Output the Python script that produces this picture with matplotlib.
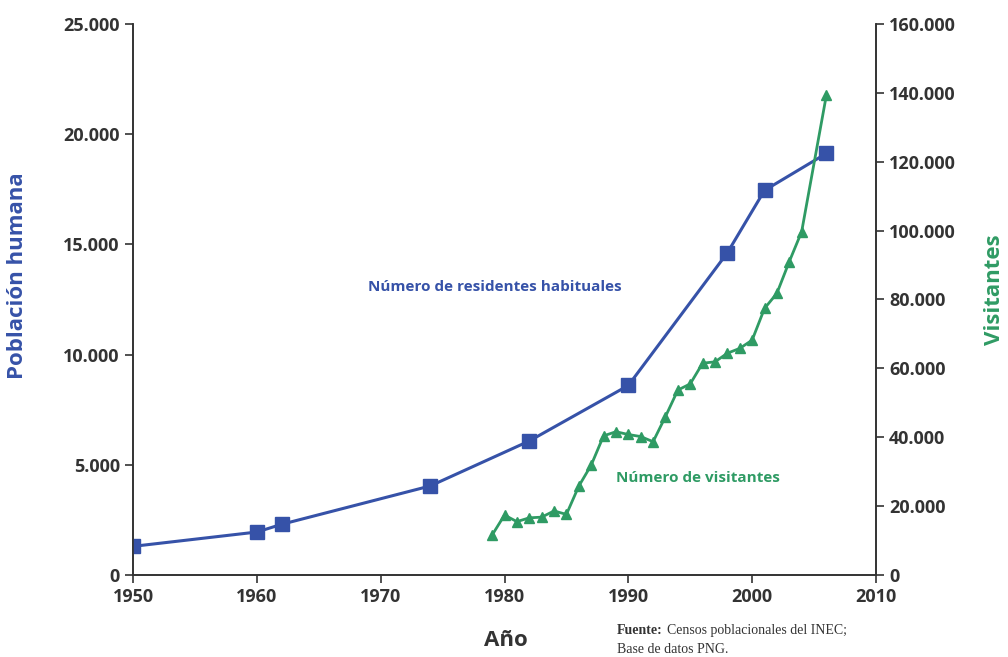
import matplotlib
matplotlib.use("Agg")
import matplotlib.pyplot as plt
from matplotlib.ticker import FuncFormatter

# Residentes habituales (eje izquierdo)
res_years = [1950, 1960, 1962, 1974, 1982, 1990, 1998, 2001, 2006]
residentes = [1300, 1950, 2300, 4040, 6080, 8600, 14620, 17450, 19130]

# Visitantes (eje derecho)
vis_years = [1979, 1980, 1981, 1982, 1983, 1984, 1985, 1986, 1987, 1988,
             1989, 1990, 1991, 1992, 1993, 1994, 1995, 1996, 1997, 1998,
             1999, 2000, 2001, 2002, 2003, 2004, 2006]
visitantes = [11600, 17400, 15500, 16600, 16800, 18600, 17600, 25800, 31900, 40400,
              41600, 40800, 40200, 38700, 46000, 53700, 55500, 61500, 61900, 64400,
              65800, 68200, 77400, 81800, 91000, 99700, 139400]

BLUE = "#3652a8"
GREEN = "#2f9b64"
DARK = "#333333"

plt.rcParams['font.family'] = ['Open Sans', 'DejaVu Sans']

def miles(v, pos):
    return "{:,.0f}".format(v).replace(",", ".")

fig = plt.figure(figsize=(10.08, 6.57), dpi=100)
ax = fig.add_axes([0.132, 0.1248, 0.737, 0.8387])
ax2 = ax.twinx()

ax.plot(res_years, residentes, color=BLUE, lw=2.2, marker='s', ms=10, zorder=3)
ax2.plot(vis_years, visitantes, color=GREEN, lw=2, marker='^', ms=7, zorder=3)

ax.set_xlim(1950, 2010)
ax.set_ylim(0, 25000)
ax2.set_ylim(0, 160000)
ax.set_xticks(range(1950, 2011, 10))
ax.set_yticks(range(0, 25001, 5000))
ax2.set_yticks(range(0, 160001, 20000))
ax.yaxis.set_major_formatter(FuncFormatter(miles))
ax2.yaxis.set_major_formatter(FuncFormatter(miles))

for a in (ax, ax2):
    a.spines['top'].set_visible(False)
    for s in a.spines.values():
        s.set_color(DARK)
        s.set_linewidth(1.2)
    a.tick_params(colors=DARK, labelsize=13, width=1.2, length=6)
    for lab in a.get_xticklabels() + a.get_yticklabels():
        lab.set_fontweight('bold')

ax.set_xlabel("Año", fontsize=16, fontweight='bold', color=DARK, va='center')
ax.xaxis.set_label_coords(0.502, -0.118)
ax.set_ylabel("Población humana", fontsize=16, fontweight='bold', color=BLUE, va='center')
ax.yaxis.set_label_coords(-0.155, 0.543)
ax2.set_ylabel("Visitantes", fontsize=16, fontweight='bold', color=GREEN, va='center')
ax2.yaxis.set_label_coords(1.159, 0.517)

ax.text(1979.2, 13050, "Número de residentes habituales", color=BLUE,
        fontsize=11, fontweight='bold', ha='center', va='center')
ax2.text(1995.6, 28200, "Número de visitantes", color=GREEN,
         fontsize=11, fontweight='bold', ha='center', va='center')

# nota de fuente
t1 = fig.text(0.612, 0.041, "Fuente:", fontsize=10, fontweight='bold',
              family=['Liberation Serif'], color=DARK, va='center')
fig.canvas.draw()
bb = t1.get_window_extent().transformed(fig.transFigure.inverted())
fig.text(bb.x1 + 0.004, 0.041, "Censos poblacionales del INEC;", fontsize=10,
         family=['Liberation Serif'], color=DARK, va='center')
fig.text(0.612, 0.011, "Base de datos PNG.", fontsize=10,
         family=['Liberation Serif'], color=DARK, va='center')

fig.savefig("out.png", dpi=100)
